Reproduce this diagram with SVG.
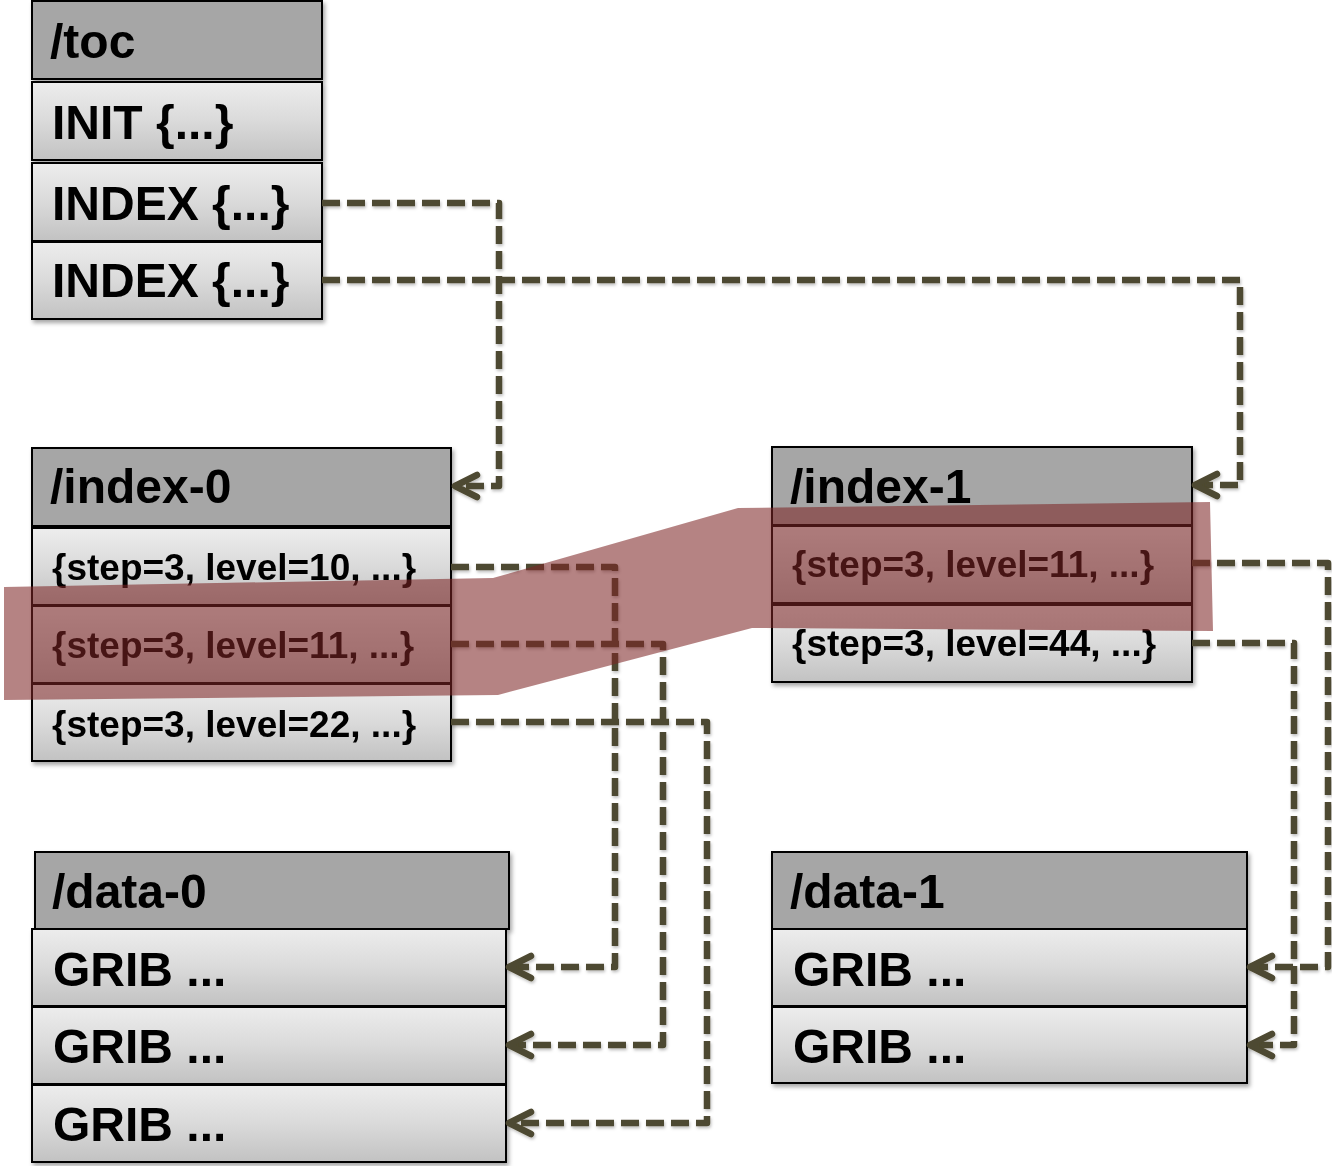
<svg xmlns="http://www.w3.org/2000/svg" width="1332" height="1166" viewBox="0 0 1332 1166">
<style>
.hdr{fill:#a6a6a6;stroke:#000;stroke-width:2}
.row{fill:url(#rowGrad);stroke:#000;stroke-width:2}
.big{font-family:"Liberation Sans",Arial,sans-serif;font-weight:bold;font-size:48px;fill:#000}
.sm{font-family:"Liberation Sans",Arial,sans-serif;font-weight:bold;font-size:37px;fill:#000}
.conn{fill:none;stroke:#4e4930;stroke-width:6.5;stroke-dasharray:18 7;stroke-linejoin:round}
.band{fill:#7c2525;fill-opacity:0.57}
</style>
<defs>
<linearGradient id="rowGrad" x1="0" y1="0" x2="0" y2="1">
<stop offset="0" stop-color="#ededed"/>
<stop offset="0.5" stop-color="#dadada"/>
<stop offset="1" stop-color="#c2c2c2"/>
</linearGradient>
<filter id="shadow" x="-5%" y="-5%" width="115%" height="120%">
<feDropShadow dx="2" dy="3" stdDeviation="2" flood-color="#000" flood-opacity="0.35"/>
</filter>
<filter id="lshadow" x="-5%" y="-5%" width="115%" height="115%">
<feDropShadow dx="1" dy="2" stdDeviation="1.5" flood-color="#000" flood-opacity="0.25"/>
</filter>
<marker id="arrow" markerUnits="userSpaceOnUse" markerWidth="40" markerHeight="40" refX="24" refY="14" orient="auto" viewBox="-2 0 40 28">
<path d="M2,3 L24,14 L2,25" fill="none" stroke="#4e4930" stroke-width="6.5" stroke-linecap="round" stroke-linejoin="round"/>
</marker>
</defs>

<g id="toc" filter="url(#shadow)">
<rect class="hdr" x="32" y="1" width="290" height="78"/>
<rect class="row" x="32" y="82" width="290" height="78"/>
<rect class="row" x="32" y="163" width="290" height="78"/>
<rect class="row" x="32" y="242" width="290" height="77"/>
<text class="big" x="50" y="58">/toc</text>
<text class="big" x="52" y="139">INIT {...}</text>
<text class="big" x="52" y="220">INDEX {...}</text>
<text class="big" x="52" y="297">INDEX {...}</text>
</g>

<g id="index-0" filter="url(#shadow)">
<rect class="hdr" x="32" y="448" width="419" height="78"/>
<rect class="row" x="32" y="528" width="419" height="77"/>
<rect class="row" x="32" y="606" width="419" height="77"/>
<rect class="row" x="32" y="684" width="419" height="77"/>
<text class="big" x="50" y="503">/index-0</text>
<text class="sm" x="52" y="580">{step=3, level=10, ...}</text>
<text class="sm" x="52" y="658">{step=3, level=11, ...}</text>
<text class="sm" x="52" y="737">{step=3, level=22, ...}</text>
</g>

<g id="index-1" filter="url(#shadow)">
<rect class="hdr" x="772" y="447" width="420" height="78"/>
<rect class="row" x="772" y="526" width="420" height="77"/>
<rect class="row" x="772" y="605" width="420" height="77"/>
<text class="big" x="790" y="503">/index-1</text>
<text class="sm" x="792" y="577">{step=3, level=11, ...}</text>
<text class="sm" x="792" y="656">{step=3, level=44, ...}</text>
</g>

<g id="data-0" filter="url(#shadow)">
<rect class="hdr" x="35" y="852" width="474" height="77"/>
<rect class="row" x="32" y="929" width="474" height="77"/>
<rect class="row" x="32" y="1007" width="474" height="77"/>
<rect class="row" x="32" y="1085" width="474" height="77"/>
<text class="big" x="52" y="908">/data-0</text>
<text class="big" x="53" y="986">GRIB ...</text>
<text class="big" x="53" y="1063">GRIB ...</text>
<text class="big" x="53" y="1141">GRIB ...</text>
</g>

<g id="data-1" filter="url(#shadow)">
<rect class="hdr" x="772" y="852" width="475" height="77"/>
<rect class="row" x="772" y="929" width="475" height="77"/>
<rect class="row" x="772" y="1007" width="475" height="76"/>
<text class="big" x="790" y="908">/data-1</text>
<text class="big" x="793" y="986">GRIB ...</text>
<text class="big" x="793" y="1063">GRIB ...</text>
</g>

<g id="connectors" filter="url(#lshadow)">
<path class="conn" d="M322,203 H499 V486 H455" marker-end="url(#arrow)"/>
<path class="conn" d="M322,280 H1240 V485 H1195" marker-end="url(#arrow)"/>
<path class="conn" d="M451,567 H615 V967 H509" marker-end="url(#arrow)"/>
<path class="conn" d="M451,644 H663 V1045 H509" marker-end="url(#arrow)"/>
<path class="conn" d="M451,722 H707 V1123 H509" marker-end="url(#arrow)"/>
<path class="conn" d="M1192,563 H1328 V967 H1250" marker-end="url(#arrow)"/>
<path class="conn" d="M1192,643 H1294 V1045 H1250" marker-end="url(#arrow)"/>
</g>

<g id="highlight">
<polygon class="band" points="4,587 493,578 738,508 1210,502 1213,631 752,628 498,695 4,700"/>
</g>
</svg>
